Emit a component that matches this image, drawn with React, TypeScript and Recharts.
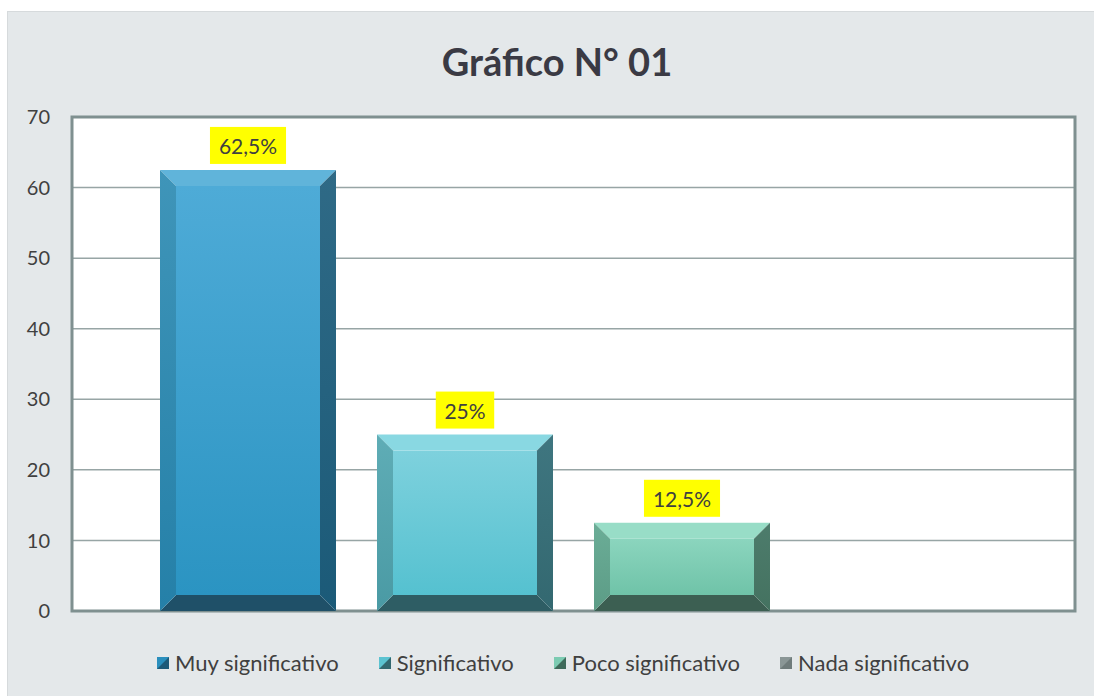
import React from "react";
import { BarChart, Bar, XAxis, YAxis, CartesianGrid, LabelList, ReferenceArea } from "recharts";

const categories = [""];
const seriesKeys = ["muy", "sig", "poco", "nada"];
const seriesNames = ["Muy significativo", "Significativo", "Poco significativo", "Nada significativo"];
const seriesValues = [62.5, 25, 12.5, 0];
const seriesLabels = ["62,5%", "25%", "12,5%", ""];
const yTicks = [0, 10, 20, 30, 40, 50, 60, 70];

type Pal = {
  top: string; faceTop: string; faceBottom: string; leftTop: string; leftBottom: string;
  rightTop: string; rightBottom: string; bottom: string; legendA: string; legendB: string;
};

const palettes: Pal[] = [
  { top: "#60b4da", faceTop: "#4eabd7", faceBottom: "#2b94c2", leftTop: "#3f95b9", leftBottom: "#2580a8", rightTop: "#2f6a86", rightBottom: "#1b5a78", bottom: "#1f5068", legendA: "#2a8fbd", legendB: "#1d5a78" },
  { top: "#89d8e2", faceTop: "#7ed1dd", faceBottom: "#55c1d0", leftTop: "#5fadb6", leftBottom: "#4a9aa4", rightTop: "#3f7680", rightBottom: "#336870", bottom: "#2e5d64", legendA: "#5cc3d1", legendB: "#336870" },
  { top: "#98ddc7", faceTop: "#8bd5be", faceBottom: "#6fc3a8", leftTop: "#6bad97", leftBottom: "#5c9c86", rightTop: "#4d7c6c", rightBottom: "#447260", bottom: "#3c5f52", legendA: "#7ccbb2", legendB: "#3f6a5a" },
  { top: "#9aa6a6", faceTop: "#8e9a9a", faceBottom: "#7f8c8c", leftTop: "#7d8a8a", leftBottom: "#717e7e", rightTop: "#5f6b6b", rightBottom: "#566262", bottom: "#4d5858", legendA: "#8a9696", legendB: "#6f7b7b" },
];

const data = categories.map((name) => {
  const row: any = { name };
  seriesKeys.forEach((k, i) => (row[k] = seriesValues[i]));
  return row;
});

const FONT = "Lato, 'Open Sans', sans-serif";

const makeShape = (idx: number) => (props: any) => {
  const { x, y, width: w, height: h } = props;
  if (!h || h <= 0 || !w) return <g />;
  const p = palettes[idx];
  const b = Math.min(16, h / 2, w / 2);
  const id = `g${idx}`;
  return (
    <g>
      <defs>
        <linearGradient id={`${id}face`} x1="0" y1="0" x2="0" y2="1">
          <stop offset="0%" stopColor={p.faceTop} />
          <stop offset="100%" stopColor={p.faceBottom} />
        </linearGradient>
        <linearGradient id={`${id}left`} x1="0" y1="0" x2="0" y2="1">
          <stop offset="0%" stopColor={p.leftTop} />
          <stop offset="100%" stopColor={p.leftBottom} />
        </linearGradient>
        <linearGradient id={`${id}right`} x1="0" y1="0" x2="0" y2="1">
          <stop offset="0%" stopColor={p.rightTop} />
          <stop offset="100%" stopColor={p.rightBottom} />
        </linearGradient>
      </defs>
      <rect x={x + b} y={y + b} width={w - 2 * b} height={h - 2 * b} fill={`url(#${id}face)`} />
      <polygon points={`${x},${y} ${x + w},${y} ${x + w - b},${y + b} ${x + b},${y + b}`} fill={p.top} />
      <polygon points={`${x},${y + h} ${x + w},${y + h} ${x + w - b},${y + h - b} ${x + b},${y + h - b}`} fill={p.bottom} />
      <polygon points={`${x},${y} ${x + b},${y + b} ${x + b},${y + h - b} ${x},${y + h}`} fill={`url(#${id}left)`} />
      <polygon points={`${x + w},${y} ${x + w - b},${y + b} ${x + w - b},${y + h - b} ${x + w},${y + h}`} fill={`url(#${id}right)`} />
    </g>
  );
};

const charW = (s: string) => {
  let t = 0;
  for (const c of s) {
    if (c === ",") t += 0.26;
    else if (c === "%") t += 0.86;
    else t += 0.58;
  }
  return t;
};

const makeLabel = (idx: number) => (props: any) => {
  const { x, y, width } = props;
  const text = seriesLabels[idx];
  if (!text || seriesValues[idx] === 0) return <g />;
  const fs = 21;
  const bw = charW(text) * fs + 16;
  const bh = 37;
  const cx = x + width / 2;
  const by = y - 6 - bh;
  return (
    <g>
      <rect x={cx - bw / 2} y={by} width={bw} height={bh} fill="#ffff00" />
      <text x={cx} y={by + bh / 2} textAnchor="middle" dominantBaseline="central" fontFamily={FONT} fontSize={fs} fill="#404040">
        {text}
      </text>
    </g>
  );
};

export default function App() {
  return (
    <div style={{ position: "absolute", left: 0, top: 0, width: 1094, height: 696, background: "#ffffff", overflow: "hidden" }}>
      <div style={{ position: "absolute", left: 7, top: 11, width: 1087, height: 685, background: "#e4e8ea", borderTop: "1px solid #d6dadc", borderLeft: "1px solid #d6dadc" }} />
      <div style={{ position: "absolute", left: 0, top: 0 }}>
        <BarChart width={1094} height={696} data={data} margin={{ top: 117, right: 19, bottom: 85, left: 0 }} barSize={176} barGap={41}>
          <CartesianGrid vertical={false} stroke="#97a5a5" strokeWidth={1.5} fill="#ffffff" />
          <XAxis dataKey="name" hide />
          <YAxis
            domain={[0, 70]}
            ticks={yTicks}
            width={72}
            axisLine={false}
            tickLine={false}
            tickSize={0}
            tickMargin={22}
            interval={0}
            tick={{ fontFamily: FONT, fontSize: 20, fill: "#404040" }}
          />
          {seriesKeys.map((k, i) => (
            <Bar key={k} dataKey={k} name={seriesNames[i]} fill={palettes[i].faceBottom} shape={makeShape(i)} isAnimationActive={false}>
              <LabelList dataKey={k} content={makeLabel(i)} />
            </Bar>
          ))}
          <ReferenceArea y1={0} y2={70} fill="none" stroke="#7f9090" strokeWidth={3} ifOverflow="visible" />
        </BarChart>
      </div>
      <div style={{ position: "absolute", left: 0, width: 1114, top: 36, textAlign: "center", fontFamily: FONT, fontWeight: 700, fontSize: 38, color: "#3a3a44", lineHeight: "50px" }}>
        Gráfico N° 01
      </div>
      <div style={{ position: "absolute", left: 157, top: 649, display: "flex", alignItems: "center", fontFamily: FONT, fontSize: 22, color: "#404040", lineHeight: "28px", whiteSpace: "nowrap" }}>
        {seriesNames.map((n, i) => (
          <div key={n} style={{ display: "flex", alignItems: "center", marginRight: 40 }}>
            <svg width={12} height={12} style={{ marginRight: 6 }}>
              <rect x={0} y={0} width={12} height={12} fill={palettes[i].legendA} />
              <polygon points="12,0 12,12 0,12" fill={palettes[i].legendB} />
            </svg>
            <span>{n}</span>
          </div>
        ))}
      </div>
    </div>
  );
}
